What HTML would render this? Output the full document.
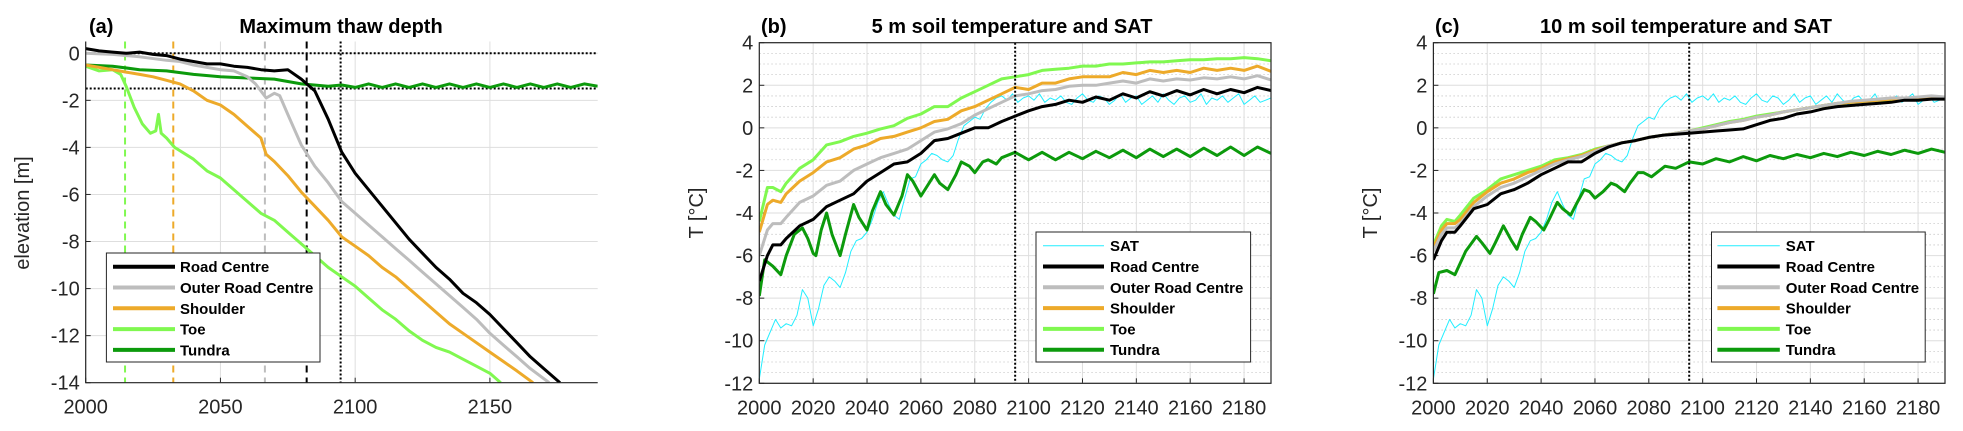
<!DOCTYPE html>
<html><head><meta charset="utf-8"><style>
html,body{margin:0;padding:0;background:#fff;}
svg{display:block;font-family:"Liberation Sans",Arial,sans-serif;}
</style></head><body>
<svg id="fig" width="1963" height="431" viewBox="0 0 1963 431" xmlns="http://www.w3.org/2000/svg"></svg>
<script>
// ---------- Panel (a) data ----------
const aRoadYears=[2000,2005,2010,2015,2020,2025,2030,2035,2040,2045,2050,2055,2060,2065,2070,2075,2080,2085,2090,2095,2100,2105,2110,2115,2120,2125,2130,2135,2140,2145,2150,2155,2160,2165,2170,2176];
const aRoad=[0.2,0.1,0.05,0.0,0.05,-0.05,-0.1,-0.25,-0.35,-0.45,-0.45,-0.55,-0.6,-0.7,-0.75,-0.7,-1.1,-1.6,-2.8,-4.2,-5.1,-5.8,-6.5,-7.2,-7.9,-8.5,-9.1,-9.6,-10.2,-10.6,-11.1,-11.7,-12.3,-12.9,-13.4,-14];
const aOuterYears=[2000,2010,2020,2030,2035,2040,2045,2050,2055,2060,2063,2067,2070,2072,2075,2080,2085,2090,2095,2100,2105,2110,2115,2120,2125,2130,2135,2140,2145,2150,2155,2160,2165,2172];
const aOuter=[0,-0.05,-0.15,-0.3,-0.35,-0.5,-0.6,-0.7,-0.75,-1.0,-1.3,-1.9,-1.7,-1.8,-2.6,-3.9,-4.8,-5.5,-6.3,-6.8,-7.3,-7.8,-8.3,-8.8,-9.3,-9.8,-10.3,-10.8,-11.3,-11.9,-12.4,-12.9,-13.4,-14];
const aShoulderYears=[2000,2005,2010,2015,2020,2025,2030,2035,2040,2045,2050,2055,2060,2065,2067,2070,2075,2080,2085,2090,2095,2100,2105,2110,2115,2120,2125,2130,2135,2140,2145,2150,2155,2160,2166];
const aShoulder=[-0.5,-0.6,-0.7,-0.8,-0.9,-1.0,-1.15,-1.3,-1.6,-2.0,-2.2,-2.6,-3.1,-3.6,-4.3,-4.6,-5.2,-5.9,-6.5,-7.1,-7.8,-8.2,-8.6,-9.1,-9.5,-10.0,-10.5,-11.0,-11.5,-11.9,-12.3,-12.7,-13.1,-13.5,-14];
const aToeYears=[2000,2005,2010,2013,2015,2018,2021,2024,2026,2027,2028,2030,2033,2040,2045,2050,2055,2060,2065,2070,2075,2080,2085,2090,2095,2100,2105,2110,2115,2120,2125,2130,2135,2140,2145,2150,2154];
const aToe=[-0.55,-0.75,-0.7,-0.9,-1.4,-2.3,-3.0,-3.4,-3.3,-2.6,-3.4,-3.6,-4.0,-4.5,-5.0,-5.3,-5.8,-6.3,-6.8,-7.1,-7.6,-8.1,-8.6,-9.1,-9.5,-9.9,-10.4,-10.9,-11.3,-11.8,-12.2,-12.5,-12.7,-13.0,-13.3,-13.6,-14];
const aTundraYears=[2000,2010,2020,2030,2040,2050,2060,2070,2080,2090,2095,2100,2105,2110,2115,2120,2125,2130,2135,2140,2145,2150,2155,2160,2165,2170,2175,2180,2185,2190];
const aTundra=[-0.5,-0.55,-0.7,-0.75,-0.9,-1.0,-1.05,-1.1,-1.3,-1.4,-1.35,-1.45,-1.3,-1.45,-1.3,-1.45,-1.3,-1.45,-1.3,-1.45,-1.3,-1.45,-1.3,-1.45,-1.3,-1.45,-1.3,-1.45,-1.3,-1.4];
const aThresholdYears=[2014.6,2032.5,2066.5,2082];
const aXTicks=[2000,2050,2100,2150];
const aYTicks=[0,-2,-4,-6,-8,-10,-12,-14];

// ---------- SAT (shared b,c), every 2 years from 2000 ----------
const satStart=2000, satStep=2;
const sat=[-11.8,-10.2,-9.6,-9.0,-9.4,-9.2,-9.3,-8.8,-7.6,-8.0,-9.3,-8.5,-7.4,-7.0,-7.2,-7.5,-6.8,-5.8,-5.3,-5.2,-4.9,-4.3,-3.5,-3.0,-3.6,-4.1,-4.3,-3.3,-2.4,-2.3,-1.7,-1.5,-1.2,-1.3,-1.5,-1.6,-1.3,-0.5,0.1,0.3,0.5,0.4,0.9,1.2,1.4,1.5,1.3,1.6,
1.2,1.4,1.5,1.3,1.6,1.2,1.4,1.3,1.5,1.2,1.1,1.4,1.6,1.3,1.2,1.5,1.4,1.1,1.3,1.6,1.2,1.4,1.5,1.1,1.3,1.5,1.2,1.6,1.3,1.1,1.4,1.5,1.2,1.3,1.6,1.1,1.4,1.3,1.5,1.2,1.4,1.6,1.1,1.3,1.5,1.2,1.3,1.4];

// ---------- Panel (b) 5 m ----------
const tYears=[2000,2003,2005,2008,2010,2015,2020,2025,2030,2035,2040,2045,2050,2055,2060,2065,2070,2075,2080,2085,2090,2095,2100,2105,2110,2115,2120,2125,2130,2135,2140,2145,2150,2155,2160,2165,2170,2175,2180,2185,2190];
const bToe=[-4.4,-2.8,-2.8,-3.0,-2.6,-1.9,-1.5,-0.8,-0.65,-0.4,-0.25,-0.05,0.1,0.45,0.65,1.0,1.0,1.4,1.7,2.0,2.3,2.4,2.5,2.7,2.75,2.8,2.9,2.9,3.0,3.0,3.05,3.1,3.1,3.15,3.2,3.2,3.25,3.25,3.3,3.25,3.15];
const bShoulder=[-4.9,-3.6,-3.4,-3.5,-3.1,-2.5,-2.1,-1.6,-1.4,-1.0,-0.8,-0.5,-0.4,-0.2,0.0,0.3,0.4,0.8,1.0,1.3,1.6,1.9,1.8,2.1,2.1,2.3,2.4,2.4,2.4,2.6,2.5,2.7,2.6,2.7,2.6,2.8,2.7,2.8,2.7,2.9,2.65];
const bOuter=[-6.0,-4.8,-4.5,-4.5,-4.2,-3.5,-3.2,-2.7,-2.5,-2.0,-1.7,-1.4,-1.2,-1.0,-0.6,-0.2,-0.05,0.2,0.6,0.9,1.2,1.5,1.6,1.75,1.8,1.95,2.0,2.0,2.1,2.2,2.1,2.3,2.2,2.3,2.25,2.35,2.3,2.4,2.3,2.45,2.25];
const bRoad=[-7.2,-6.0,-5.5,-5.5,-5.2,-4.6,-4.3,-3.7,-3.4,-3.1,-2.5,-2.1,-1.7,-1.6,-1.2,-0.6,-0.5,-0.25,0.0,0.0,0.3,0.55,0.8,1.0,1.1,1.3,1.2,1.45,1.3,1.6,1.4,1.7,1.5,1.75,1.55,1.8,1.6,1.8,1.65,1.9,1.75];
const bTundraYears=[2000,2002,2005,2008,2010,2013,2016,2018,2020,2021,2023,2025,2027,2030,2032,2035,2037,2040,2042,2045,2047,2050,2053,2055,2057,2060,2062,2065,2067,2070,2073,2075,2078,2080,2083,2085,2088,2090,2095,2100,2105,2110,2115,2120,2125,2130,2135,2140,2145,2150,2155,2160,2165,2170,2175,2180,2185,2190];
const bTundra=[-7.9,-6.2,-6.5,-6.9,-6.0,-5.0,-4.7,-5.2,-5.9,-6.0,-4.8,-4.0,-5.0,-6.0,-5.0,-3.6,-4.2,-4.8,-3.9,-3.0,-3.6,-4.1,-3.2,-2.2,-2.5,-3.2,-2.8,-2.2,-2.6,-2.9,-2.2,-1.6,-1.8,-2.1,-1.6,-1.5,-1.7,-1.4,-1.15,-1.5,-1.15,-1.5,-1.15,-1.45,-1.1,-1.4,-1.05,-1.4,-1.0,-1.35,-1.0,-1.35,-0.95,-1.3,-0.9,-1.3,-0.9,-1.2];

// ---------- Panel (c) 10 m ----------
const cToe=[-5.5,-4.6,-4.3,-4.4,-4.1,-3.3,-2.9,-2.4,-2.2,-2.0,-1.8,-1.5,-1.4,-1.25,-1.0,-0.85,-0.7,-0.6,-0.45,-0.35,-0.25,-0.15,0.0,0.15,0.3,0.4,0.55,0.65,0.75,0.85,0.95,1.05,1.15,1.2,1.25,1.3,1.3,1.35,1.35,1.4,1.35];
const cShoulder=[-5.6,-4.8,-4.5,-4.5,-4.3,-3.5,-3.0,-2.6,-2.4,-2.1,-1.9,-1.6,-1.45,-1.3,-1.05,-0.85,-0.7,-0.6,-0.45,-0.35,-0.25,-0.15,-0.05,0.1,0.25,0.35,0.5,0.6,0.75,0.85,0.95,1.05,1.15,1.2,1.25,1.3,1.35,1.35,1.4,1.45,1.4];
const cOuter=[-5.8,-5.0,-4.7,-4.7,-4.5,-3.7,-3.2,-2.8,-2.6,-2.3,-2.0,-1.7,-1.5,-1.35,-1.1,-0.85,-0.7,-0.6,-0.45,-0.35,-0.25,-0.15,-0.05,0.1,0.25,0.35,0.5,0.6,0.75,0.85,0.95,1.05,1.15,1.25,1.3,1.35,1.4,1.4,1.45,1.5,1.45];
const cRoad=[-6.2,-5.3,-4.9,-4.9,-4.6,-3.8,-3.6,-3.1,-2.9,-2.6,-2.2,-1.9,-1.6,-1.6,-1.2,-0.9,-0.7,-0.6,-0.45,-0.35,-0.3,-0.25,-0.2,-0.15,-0.1,-0.05,0.15,0.35,0.45,0.65,0.75,0.9,1.0,1.05,1.1,1.15,1.2,1.3,1.3,1.35,1.35];
const cTundraYears=[2000,2002,2005,2008,2012,2016,2018,2021,2023,2026,2029,2031,2033,2036,2038,2041,2043,2046,2048,2051,2053,2056,2058,2060,2063,2066,2068,2071,2073,2076,2078,2081,2084,2086,2090,2095,2100,2105,2110,2115,2120,2125,2130,2135,2140,2145,2150,2155,2160,2165,2170,2175,2180,2185,2190];
const cTundra=[-7.8,-6.8,-6.7,-6.9,-5.8,-5.1,-5.4,-5.9,-5.4,-4.6,-5.3,-5.7,-5.0,-4.2,-4.4,-4.8,-4.3,-3.5,-3.8,-4.1,-3.6,-2.9,-3.0,-3.3,-3.0,-2.6,-2.7,-3.0,-2.6,-2.1,-2.1,-2.3,-2.0,-1.8,-1.9,-1.6,-1.7,-1.45,-1.6,-1.35,-1.55,-1.3,-1.45,-1.25,-1.4,-1.2,-1.35,-1.15,-1.3,-1.1,-1.25,-1.05,-1.2,-1.0,-1.15];
const tXTicks=[2000,2020,2040,2060,2080,2100,2120,2140,2160,2180];
const tYTicks=[4,2,0,-2,-4,-6,-8,-10,-12];
const markerYear=2095;

const legendNames=["SAT","Road Centre","Outer Road Centre","Shoulder","Toe","Tundra"];
const C={sat:"#22eeff",road:"#000000",outer:"#bdbdbd",shoulder:"#edaa2a",toe:"#80f850",tundra:"#0c9a0c"};
const NS="http://www.w3.org/2000/svg";
const svg=document.getElementById("fig");
function mk(tag,attrs,parent){const e=document.createElementNS(NS,tag);for(const k in attrs)e.setAttribute(k,attrs[k]);(parent||svg).appendChild(e);return e;}
function scale(d0,d1,r0,r1){return v=>r0+(v-d0)*(r1-r0)/(d1-d0);}
function txt(x,y,s,opt,name){const e=mk("text",Object.assign({x:x,y:y,"font-size":20,fill:"#262626"},opt||{}));e.textContent=s;


return e;}
function path(xs,ys,X,Y,style,name,g){let d="";for(let i=0;i<xs.length;i++)d+=(i?"L":"M")+X(xs[i]).toFixed(1)+" "+Y(ys[i]).toFixed(1);
const p=mk("path",Object.assign({d:d,fill:"none","stroke-linejoin":"round"},style),g);


return p;}

function panel(cfg){
  const g=mk("g",{});
  
  
  const X=scale(cfg.xd[0],cfg.xd[1],cfg.l,cfg.r), Y=scale(cfg.yd[0],cfg.yd[1],cfg.b,cfg.t);
  const clipId="clip"+cfg.id;
  const cp=mk("clipPath",{id:clipId},g);mk("rect",{x:cfg.l,y:cfg.t,width:cfg.r-cfg.l,height:cfg.b-cfg.t},cp);
  if(cfg.minor){for(let v=cfg.yd[0];v<=cfg.yd[1]+1e-9;v+=0.5){if(Math.abs(v/2-Math.round(v/2))<1e-6)continue;
    const l=mk("line",{x1:cfg.l,x2:cfg.r,y1:Y(v),y2:Y(v),stroke:"#c8c8c8","stroke-width":0.8,"stroke-dasharray":"1.5 2.5"},g);
    
    }}
  cfg.xt.forEach(v=>{const l=mk("line",{x1:X(v),x2:X(v),y1:cfg.t,y2:cfg.b,stroke:"#dedede","stroke-width":1},g);
    
    
    const tk=mk("line",{x1:X(v),x2:X(v),y1:cfg.b,y2:cfg.b-5,stroke:"#262626","stroke-width":1},g);
    
    
    txt(X(v),cfg.b+31,String(v),{"text-anchor":"middle"},"x-tick-label");});
  cfg.yt.forEach(v=>{const l=mk("line",{x1:cfg.l,x2:cfg.r,y1:Y(v),y2:Y(v),stroke:"#dedede","stroke-width":1},g);
    
    
    const tk=mk("line",{x1:cfg.l,x2:cfg.l+5,y1:Y(v),y2:Y(v),stroke:"#262626","stroke-width":1},g);
    
    
    txt(cfg.l-6,Y(v)+7,String(v),{"text-anchor":"end"},"y-tick-label");});
  const cg=mk("g",{"clip-path":"url(#"+clipId+")"},g);
  cfg.draw(X,Y,cg);
  if(cfg.box){
    const box=mk("rect",{x:cfg.l,y:cfg.t,width:cfg.r-cfg.l,height:cfg.b-cfg.t,fill:"none",stroke:"#262626","stroke-width":1.2},g);
    
    
  } else {
    const ax=mk("path",{d:`M${cfg.l} ${cfg.t}L${cfg.l} ${cfg.b}L${cfg.r} ${cfg.b}`,fill:"none",stroke:"#262626","stroke-width":1.2},g);
    
    
  }
  txt(cfg.tagX,33,cfg.tag,{"font-size":20,"font-weight":"bold",fill:"#000"},"panel-label");
  txt(cfg.titleX,33,cfg.title,{"font-size":20,"font-weight":"bold",fill:"#000","text-anchor":"middle"},"panel-title");
  txt(cfg.ylX,213,cfg.ylabel,{"font-size":20,"text-anchor":"middle",transform:"rotate(-90 "+cfg.ylX+" 213)"},"y-axis-title");
  const L=cfg.leg;
  const lb=mk("rect",{x:L.x,y:L.y,width:L.w,height:L.h,fill:"#fff",stroke:"#262626","stroke-width":1},g);
  
  
  L.items.forEach((it,i)=>{const yy=L.y0+i*20.8;
    const ln=mk("line",{x1:L.lx0,x2:L.lx1,y1:yy,y2:yy,stroke:it[1],"stroke-width":it[2]},g);
    
    
    txt(L.tx,yy+5.5,it[0],{"font-size":15,"font-weight":"bold",fill:"#000"},"legend-entry");});
}

// Panel (a)
panel({id:"a",name:"panel-a-thaw-depth",l:85.7,r:597.7,t:41.5,b:382.7,xd:[2000,2190],yd:[-14,0.5],xt:aXTicks,yt:aYTicks,box:false,
  tag:"(a)",tagX:89,title:"Maximum thaw depth",titleX:341,ylabel:"elevation [m]",ylX:29,
  draw:(X,Y,g)=>{
    [[C.toe,"toe-threshold-line"],[C.shoulder,"shoulder-threshold-line"],[C.outer,"outer-threshold-line"],["#000","road-threshold-line"]].forEach((c,i)=>{
      const l=mk("line",{x1:X(aThresholdYears[i]),x2:X(aThresholdYears[i]),y1:Y(0.5),y2:Y(-14),stroke:c[0],"stroke-width":2,"stroke-dasharray":"7 5"},g);
      
      });
    const m=mk("line",{x1:X(2094.6),x2:X(2094.6),y1:Y(0.5),y2:Y(-14),stroke:"#000","stroke-width":2,"stroke-dasharray":"2 2"},g);
    
    
    [0,-1.5].forEach(v=>{const h=mk("line",{x1:X(2000),x2:X(2190),y1:Y(v),y2:Y(v),stroke:"#000","stroke-width":2,"stroke-dasharray":"2 2"},g);
      
      });
    path(aTundraYears,aTundra,X,Y,{stroke:C.tundra,"stroke-width":3},"tundra-line",g);
    path(aToeYears,aToe,X,Y,{stroke:C.toe,"stroke-width":3},"toe-line",g);
    path(aShoulderYears,aShoulder,X,Y,{stroke:C.shoulder,"stroke-width":3},"shoulder-line",g);
    path(aOuterYears,aOuter,X,Y,{stroke:C.outer,"stroke-width":3},"outer-road-centre-line",g);
    path(aRoadYears,aRoad,X,Y,{stroke:C.road,"stroke-width":3},"road-centre-line",g);
  },
  leg:{x:106.4,y:253,w:213.6,h:109,y0:266.7,lx0:113,lx1:175,tx:180,items:[
    [legendNames[1],C.road,4],[legendNames[2],C.outer,4],[legendNames[3],C.shoulder,4],[legendNames[4],C.toe,4],[legendNames[5],C.tundra,4]]}
});

function tempDraw(toe,sh,ou,ro,tuY,tu){return (X,Y,g)=>{
  const satYears=sat.map((_,i)=>satStart+i*satStep);
  path(satYears,sat,X,Y,{stroke:C.sat,"stroke-width":1},"sat-line",g);
  path(tuY,tu,X,Y,{stroke:C.tundra,"stroke-width":3},"tundra-line",g);
  path(tYears,toe,X,Y,{stroke:C.toe,"stroke-width":3},"toe-line",g);
  path(tYears,sh,X,Y,{stroke:C.shoulder,"stroke-width":3},"shoulder-line",g);
  path(tYears,ou,X,Y,{stroke:C.outer,"stroke-width":3},"outer-road-centre-line",g);
  path(tYears,ro,X,Y,{stroke:C.road,"stroke-width":3},"road-centre-line",g);
  const m=mk("line",{x1:X(markerYear),x2:X(markerYear),y1:Y(4),y2:Y(-12),stroke:"#000","stroke-width":2,"stroke-dasharray":"2 2"},g);
  
  
};}
function legItems(){return [[legendNames[0],C.sat,1],[legendNames[1],C.road,4],[legendNames[2],C.outer,4],[legendNames[3],C.shoulder,4],[legendNames[4],C.toe,4],[legendNames[5],C.tundra,4]];}

panel({id:"b",name:"panel-b-5m-temperature",l:759.3,r:1271,t:42.7,b:383.3,xd:[2000,2190],yd:[-12,4],xt:tXTicks,yt:tYTicks,minor:true,box:true,
  tag:"(b)",tagX:761,title:"5 m soil temperature and SAT",titleX:1012,ylabel:"T [°C]",ylX:703,
  draw:tempDraw(bToe,bShoulder,bOuter,bRoad,bTundraYears,bTundra),
  leg:{x:1036,y:232,w:214.6,h:130,y0:245.7,lx0:1043,lx1:1104,tx:1110,items:legItems()}});

panel({id:"c",name:"panel-c-10m-temperature",l:1433.4,r:1945,t:42.7,b:383.3,xd:[2000,2190],yd:[-12,4],xt:tXTicks,yt:tYTicks,minor:true,box:true,
  tag:"(c)",tagX:1435,title:"10 m soil temperature and SAT",titleX:1686,ylabel:"T [°C]",ylX:1377,
  draw:tempDraw(cToe,cShoulder,cOuter,cRoad,cTundraYears,cTundra),
  leg:{x:1711.5,y:232,w:213.7,h:130,y0:245.7,lx0:1717.4,lx1:1779.8,tx:1785.8,items:legItems()}});
</script>
</body></html>
